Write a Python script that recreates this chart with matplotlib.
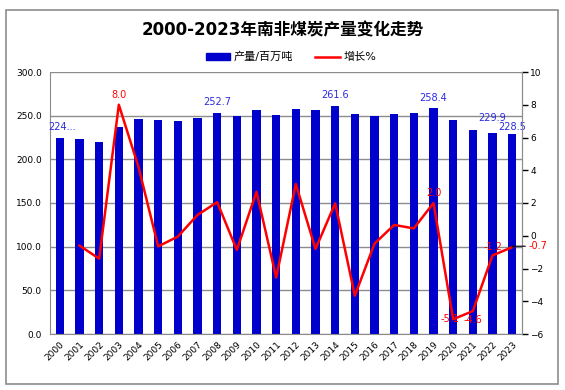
import matplotlib
matplotlib.use("Agg")
import matplotlib.pyplot as plt
from matplotlib.patches import Rectangle, Patch
from matplotlib.lines import Line2D

plt.rcParams['font.family'] = ['DejaVu Sans', 'Noto Sans CJK SC']

# 数据
years = [str(y) for y in range(2000, 2024)]
output = [224.2, 223.0, 220.0, 237.0, 246.5, 245.4, 244.2, 247.7, 252.7, 250.0,
          256.9, 251.2, 258.0, 256.9, 261.6, 252.3, 250.0, 252.3, 253.5, 258.4,
          245.4, 233.8, 229.9, 228.5]
growth = [None, -0.6, -1.4, 8.0, 4.2, -0.65, -0.05, 1.27, 2.05, -0.87,
          2.69, -2.55, 3.16, -0.81, 1.98, -3.66, -0.48, 0.66, 0.45, 2.0,
          -5.1, -4.6, -1.2, -0.7]

bar_labels = {0: "224...", 8: "252.7", 14: "261.6", 19: "258.4", 22: "229.9", 23: "228.5"}
bar_label_dy = {0: 6, 8: 6, 14: 6, 19: 5, 22: 10, 23: 2}

BLUE = "#0000CC"
RED = "#FF0000"
GRID = "#8C8C8C"

fig = plt.figure(figsize=(5.65, 3.9), dpi=100)
fig.patches.append(Rectangle((5.5 / 565, 1 - 384 / 390), 552.5 / 565, 374.5 / 390,
                             transform=fig.transFigure, fill=False,
                             edgecolor="#8C8C8C", linewidth=1.2))

ax = fig.add_axes([50 / 565, 1 - 334 / 390, 472 / 565, 262 / 390])
x = list(range(len(years)))
ax.bar(x, output, width=0.42, color=BLUE, zorder=2)
ax.set_xlim(-0.5, len(years) - 0.5)
ax.set_ylim(0, 300)
ax.set_yticks(range(0, 301, 50))
ax.set_yticklabels([f"{v:.1f}" for v in range(0, 301, 50)], fontsize=6.5)
ax.yaxis.grid(True, color=GRID, linewidth=1, zorder=0)
ax.set_axisbelow(True)
ax.set_xticks(x)
ax.set_xticklabels(years, rotation=45, ha='right', rotation_mode='anchor', fontsize=6.5)
ax.tick_params(axis='x', length=0, pad=4)
ax.tick_params(axis='y', length=0, pad=6)
for s in ax.spines.values():
    s.set_color(GRID)
ax.spines['top'].set_visible(False)

for i, t in bar_labels.items():
    ax.annotate(t, xy=(i, output[i]), xytext=(2 if i == 0 else 0, bar_label_dy[i]),
                textcoords='offset pixels',
                ha='center', va='bottom', fontsize=7, color="#2B2BE0")

ax2 = ax.twinx()
gx = [i for i, g in enumerate(growth) if g is not None]
gy = [g for g in growth if g is not None]
ax2.plot(gx, gy, color=RED, linewidth=1.8, zorder=3)
ax2.set_ylim(-6, 10)
ax2.set_yticks(range(-6, 11, 2))
ax2.tick_params(axis='y', length=4, width=1, color='black', labelsize=6.5, pad=2)
for s in ax2.spines.values():
    s.set_visible(False)
ax2.spines['right'].set_visible(True)
ax2.spines['right'].set_color(GRID)

def glabel(i, dx, dy, va='bottom'):
    ax2.annotate(f"{growth[i]:.1f}", xy=(i, growth[i]), xytext=(dx, dy),
                 textcoords='offset pixels', ha='center', va=va, fontsize=7, color=RED)

glabel(3, 0, 5)
glabel(19, 0, 5)
glabel(20, -3, 0, 'center')
glabel(21, 0, -9, 'center')
glabel(22, 0, 8, 'center')
ax2.annotate("-0.7", xy=(23, -0.7), xytext=(16, 1), textcoords='offset pixels',
             ha='left', va='center', fontsize=7, color=RED,
             arrowprops=dict(arrowstyle='-', color='black', linewidth=0.8,
                             shrinkA=0, shrinkB=0,
                             connectionstyle="angle,angleA=0,angleB=45,rad=0"))

fig.text(0.5, 1 - 30 / 390, "2000-2023年南非煤炭产量变化走势", ha='center', va='center',
         fontsize=12, fontweight='bold')

handles = [Patch(facecolor=BLUE, edgecolor=BLUE),
           Line2D([0], [0], color=RED, linewidth=1.8)]
fig.legend(handles, ["产量/百万吨", "增长%"], loc='center', ncol=2,
           bbox_to_anchor=(0.515, 1 - 57 / 390), frameon=False, fontsize=8,
           handlelength=2.2, handleheight=0.6, columnspacing=2.0, handletextpad=0.3)

fig.savefig("out.png", dpi=100)
